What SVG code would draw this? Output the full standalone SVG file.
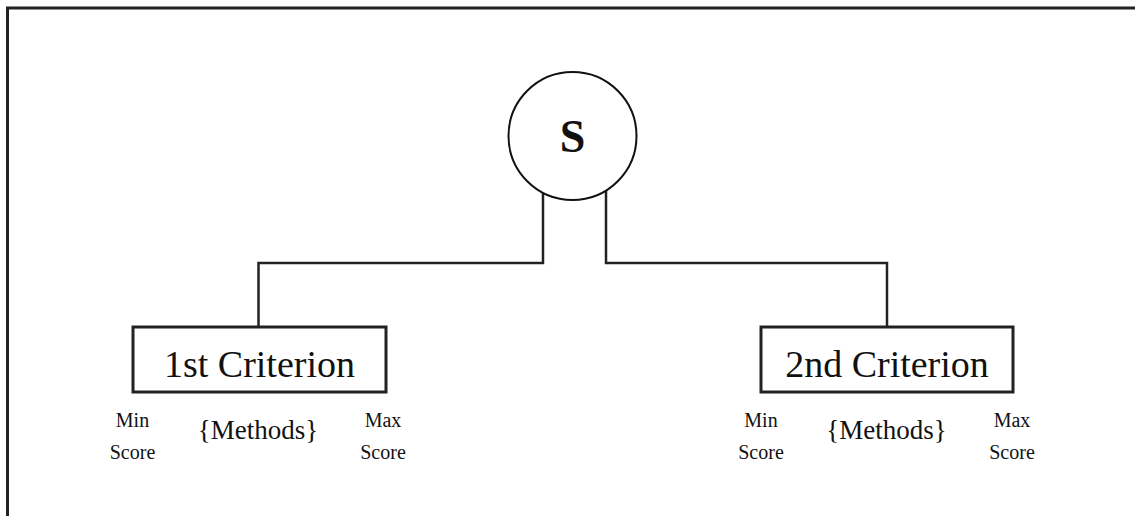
<svg xmlns="http://www.w3.org/2000/svg" width="1135" height="516" viewBox="0 0 1135 516">
  <style>
    .frame { fill: none; stroke: #222; stroke-width: 3; }
    .wire { fill: none; stroke: #222; stroke-width: 2.5; }
    .box { fill: #fff; stroke: #222; stroke-width: 3; }
    .root { fill: #fff; stroke: #111; stroke-width: 2; }
    .serif { font-family: "Liberation Serif", serif; fill: #111; text-anchor: middle; }
    .title { font-size: 38px; }
    .methods { font-size: 27px; }
    .score { font-size: 20px; }
    .root-label { font-size: 46px; font-weight: bold; }
  </style>

  <rect width="1135" height="516" fill="#fff"/>
  <!-- outer frame: top and left edges -->
  <path class="frame" d="M7.5 516 V8 H1135"/>

  <!-- connectors from the root to each criterion -->
  <g id="connectors">
    <path class="wire" d="M543 190 V263 H258.5 V327"/>
    <path class="wire" d="M606 190 V263 H887 V327"/>
  </g>

  <g id="root">
    <circle class="root" cx="572.5" cy="136" r="64"/>
    <text class="serif root-label" x="572.5" y="151.5">S</text>
  </g>

  <g id="criterion-1">
    <rect class="box" x="133" y="327" width="253" height="65"/>
    <text class="serif title" x="259.5" y="377">1st Criterion</text>
    <text class="serif score" x="132.5" y="427">Min</text>
    <text class="serif score" x="132.5" y="459">Score</text>
    <text class="serif methods" x="258" y="439">{Methods}</text>
    <text class="serif score" x="383" y="427">Max</text>
    <text class="serif score" x="383" y="459">Score</text>
  </g>

  <g id="criterion-2">
    <rect class="box" x="761" y="327" width="252" height="65"/>
    <text class="serif title" x="887" y="377">2nd Criterion</text>
    <text class="serif score" x="761" y="427">Min</text>
    <text class="serif score" x="761" y="459">Score</text>
    <text class="serif methods" x="886.5" y="439">{Methods}</text>
    <text class="serif score" x="1012" y="427">Max</text>
    <text class="serif score" x="1012" y="459">Score</text>
  </g>
</svg>
